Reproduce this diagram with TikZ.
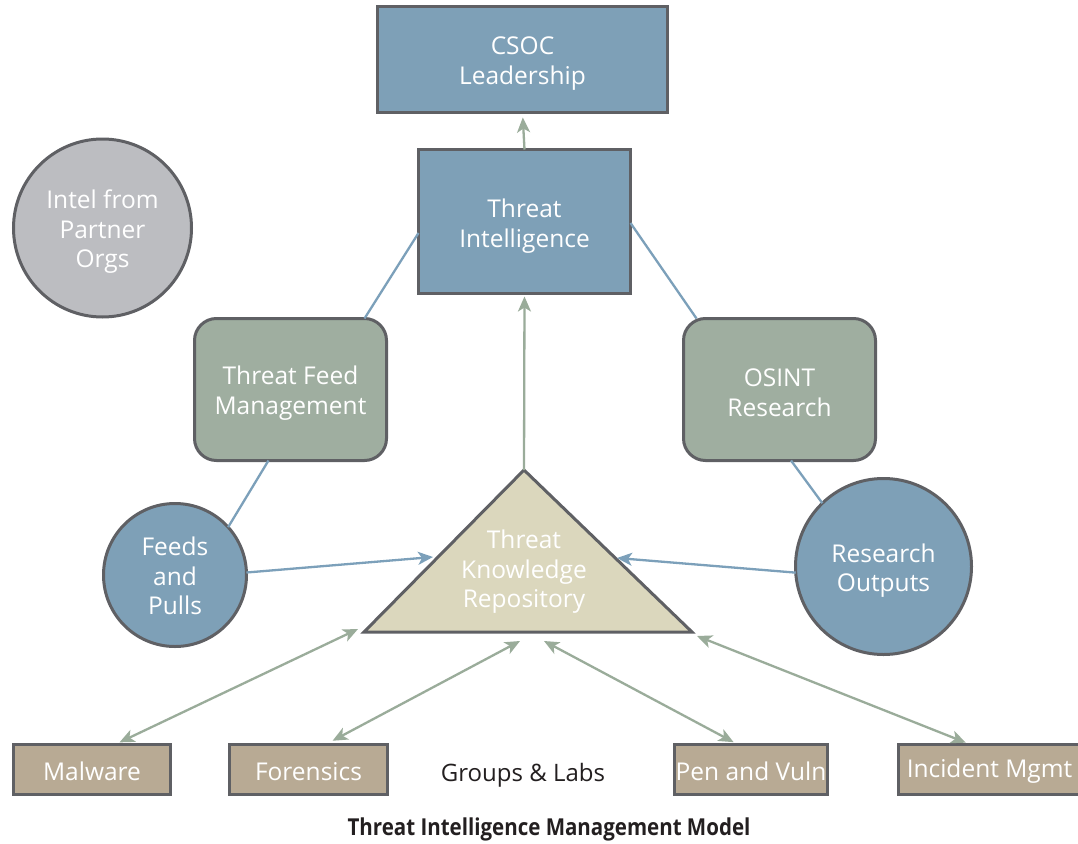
\documentclass[tikz,border=0pt]{standalone}
\usepackage{fontspec}
\setmainfont{Open Sans}
\newfontfamily\titlefont[FakeStretch=0.88]{Open Sans}
\usetikzlibrary{arrows.meta,calc}

\definecolor{boxblue}{HTML}{7EA0B7}
\definecolor{edgegray}{HTML}{5F6064}
\definecolor{sagegreen}{HTML}{9FAEA0}
\definecolor{partnergray}{HTML}{BCBDC1}
\definecolor{repobeige}{HTML}{DBD7BD}
\definecolor{labtan}{HTML}{B8AA94}
\definecolor{linkblue}{HTML}{7CA0BA}
\definecolor{linkgreen}{HTML}{9AAC9A}
\definecolor{inkdark}{HTML}{231F20}

\begin{document}
\begin{tikzpicture}[x=1pt,y=-1pt,
  every node/.style={font=\fontsize{24.5}{29.5}\selectfont, text=white,
    align=center, inner sep=0pt, outer sep=0pt},
  % text set at the centre of a shape, nudged down to sit optically centred
  caption/.style 2 args={label={[yshift=#1]center:{#2}}},
  frame/.style={draw=edgegray, line width=3pt},
  bluebox/.style={frame, fill=boxblue, rectangle},
  sagebox/.style={frame, fill=sagegreen, rectangle, rounded corners=22pt,
    minimum width=192pt, minimum height=142pt},
  disc/.style={frame, circle},
  labbox/.style={frame, fill=labtan, rectangle, minimum height=50pt},
  bluelink/.style={draw=linkblue, line width=2.3pt},
  greenlink/.style={draw=linkgreen, line width=2.3pt},
  tipend/.style={-{Stealth[length=15pt,width=13pt,inset=4pt]}},
  tipboth/.style={{Stealth[length=15pt,width=13pt,inset=4pt]}-{Stealth[length=15pt,width=13pt,inset=4pt]}}
]
\clip (0,0) rectangle (1078,843);
\fill[white] (0,0) rectangle (1078,843);

% leadership and intelligence boxes
\node[bluebox, minimum width=290pt, minimum height=106pt,
  caption={-4pt}{CSOC\\Leadership}] (csoc) at (522.5,59.5) {};
\node[bluebox, minimum width=212pt, minimum height=144pt,
  caption={-4.5pt}{Threat\\Intelligence}] (ti) at (524.5,221.5) {};

% partner intel
\node[disc, fill=partnergray, minimum size=178pt,
  caption={-4pt}{Intel from\\Partner\\Orgs}] (partner) at (102.5,228) {};

% research and feed management
\node[sagebox, caption={-3.5pt}{Threat Feed\\Management}] (tfm) at (290.5,389.5) {};
\node[sagebox, caption={-3pt}{OSINT\\Research}] (osint) at (779.5,389.5) {};

% source circles
\node[disc, fill=boxblue, minimum size=143pt,
  caption={-1pt}{Feeds\\and\\Pulls}] (feeds) at (175,575) {};
\node[disc, fill=boxblue, minimum size=176pt,
  caption={-4pt}{Research\\Outputs}] (research) at (883.5,566.5) {};

% knowledge repository triangle
\coordinate (kApex) at (524,470);
\coordinate (kLeft) at (364,632);
\coordinate (kRight) at (692,632);
\draw[frame, fill=repobeige, line join=miter] (kLeft) -- (kApex) -- (kRight) -- cycle;
\node (repo) at (524,572) {Threat\\Knowledge\\Repository};

% groups and labs
\node[labbox, minimum width=157pt, caption={-2pt}{Malware}] (malware) at (92,769.5) {};
\node[labbox, minimum width=158pt, caption={-2pt}{Forensics}] (forensics) at (308.5,769.5) {};
\node[labbox, minimum width=153pt, caption={-2pt}{Pen and Vuln}] (pen) at (751,769.5) {};
\node[labbox, minimum width=182pt, caption={-2pt}{Incident Mgmt}] (incident) at (989.5,769.5) {};
\node[text=inkdark, font=\fontsize{24}{28}\selectfont] (groups) at (523,775) {Groups \& Labs};

% title
\node[text=inkdark, font=\titlefont\bfseries\fontsize{23.3}{28}\selectfont] (title) at (549,829) {Threat Intelligence Management Model};

% tie lines
\draw[bluelink] ([xshift=74pt]tfm.north) -- ([yshift=-11.5pt]ti.west);
\draw[bluelink] ([xshift=-83pt]osint.north) -- ([yshift=-1.5pt]ti.east);
\draw[bluelink] ([xshift=-22pt]tfm.south) -- (feeds.42);
\draw[bluelink] ([xshift=11.5pt]osint.south) -- (research.134);

% flows into the repository
\coordinate (feedsIn) at (433,557);
\coordinate (researchIn) at (617,558);
\draw[bluelink, tipend] (feeds.2) -- (feedsIn);
\draw[bluelink, tipend] (research.184) -- (researchIn);

% repository upward
\draw[greenlink, tipend, shorten >=3pt] (kApex) -- (ti.south);
\draw[greenlink, tipend, shorten >=5pt] (ti.north) -- (csoc.south);

% exchanges with groups and labs
\coordinate (malwareEnd) at (358,629);
\coordinate (forensicsEnd) at (520,641);
\coordinate (penEnd) at (544,641);
\coordinate (incidentEnd) at (697,636);
\draw[greenlink, tipboth, shorten <=5pt] ([xshift=23pt]malware.north) -- (malwareEnd);
\draw[greenlink, tipboth, shorten <=8pt] ([xshift=17pt]forensics.north) -- (forensicsEnd);
\draw[greenlink, tipboth, shorten <=5pt] ([xshift=-13pt]pen.north) -- (penEnd);
\draw[greenlink, tipboth, shorten <=5pt] ([xshift=-19pt]incident.north) -- (incidentEnd);
\end{tikzpicture}
\end{document}
